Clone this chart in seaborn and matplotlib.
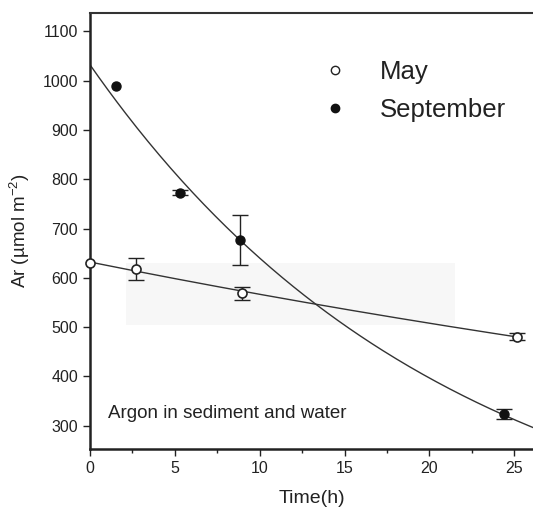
import numpy as np
import pandas as pd
import matplotlib
matplotlib.use("Agg")
import matplotlib.pyplot as plt
from matplotlib.lines import Line2D
from matplotlib.patches import Rectangle
import seaborn as sns

# ---- data ----
may_t = [0.0, 2.7, 8.98, 25.16]
may_ar = [631, 618, 569, 481]
may_err = [0, 22, 13, 8]

sep_t = [1.53, 5.31, 8.82, 24.37]
sep_ar = [988, 773, 677, 324]
sep_err = [0, 5, 50, 10]

series_names = ["May", "September"]
x_ticks = [0, 5, 10, 15, 20, 25]
y_ticks = [300, 400, 500, 600, 700, 800, 900, 1000, 1100]

sns.set_theme(style="ticks")
plt.rcParams["font.family"] = ["Liberation Sans", "DejaVu Sans"]
plt.rcParams["mathtext.fontset"] = "custom"
plt.rcParams["mathtext.rm"] = "Liberation Sans"
plt.rcParams["mathtext.it"] = "Liberation Sans:italic"

df = pd.DataFrame({
    "t": may_t + sep_t,
    "ar": may_ar + sep_ar,
    "err": may_err + sep_err,
    "month": [series_names[0]] * len(may_t) + [series_names[1]] * len(sep_t),
})

fig = plt.figure(figsize=(5.33, 5.08), dpi=100)
ax = fig.add_axes([90 / 533, 59 / 508, 443 / 533, 436 / 508])

# faint scan shading
ax.add_patch(Rectangle((2.1, 505), 19.4, 126, facecolor="#f7f7f7",
                       edgecolor="none", zorder=0))

# exponential fits (log-linear regression of the data)
for name, tt, yy, tend in [("May", may_t, may_ar, 25.2), ("September", sep_t, sep_ar, 26.2)]:
    k, lna = np.polyfit(np.array(tt), np.log(np.array(yy, dtype=float)), 1)
    tg = np.linspace(0, tend, 200)
    fit = pd.DataFrame({"t": tg, "ar": np.exp(lna + k * tg)})
    sns.lineplot(data=fit, x="t", y="ar", ax=ax, color="#333333",
                 linewidth=1.0, zorder=2)

# error bars
for name in series_names:
    sub = df[(df.month == name) & (df.err > 0)]
    ax.errorbar(sub.t, sub.ar, yerr=sub.err, fmt="none", ecolor="#222222",
                elinewidth=1.0, capsize=6, capthick=1.0, zorder=3)

# points
may = df[df.month == "May"]
sep = df[df.month == "September"]
ax.plot(may.t, may.ar, linestyle="none", marker="o", markersize=6.5,
        markerfacecolor="white", markeredgecolor="#222222", markeredgewidth=1.2,
        zorder=4, clip_on=False)
ax.plot(sep.t, sep.ar, linestyle="none", marker="o", markersize=6.5,
        markerfacecolor="#111111", markeredgecolor="#111111", zorder=4, clip_on=False)

ax.set_xlim(0, 26.1)
ax.set_ylim(253, 1137)
ax.set_xticks(x_ticks)
ax.set_yticks(y_ticks)
ax.set_xticks([2.5, 7.5, 12.5, 17.5, 22.5], minor=True)
ax.tick_params(axis="both", which="major", labelsize=11.5, length=5, width=1.0,
               color="#222222", labelcolor="#222222", direction="out")
ax.tick_params(axis="x", which="minor", length=3, width=1.0, color="#222222")

ax.spines["right"].set_visible(False)
for s in ["left", "bottom"]:
    ax.spines[s].set_linewidth(1.8)
    ax.spines[s].set_color("#222222")
ax.spines["top"].set_linewidth(1.5)
ax.spines["top"].set_color("#333333")

ax.set_xlabel("Time(h)", fontsize=14, color="#222222", labelpad=10)
ax.set_ylabel("Ar (µmol m$^{-2}$)", fontsize=13.5, color="#222222", labelpad=8)

ax.text(1.05, 324, "Argon in sediment and water", fontsize=13.5, color="#222222",
        va="center", ha="left")

handles = [
    Line2D([], [], linestyle="none", marker="o", markersize=6, markerfacecolor="white",
           markeredgecolor="#222222", markeredgewidth=1.0),
    Line2D([], [], linestyle="none", marker="o", markersize=6, markerfacecolor="#111111",
           markeredgecolor="#111111"),
]
leg = ax.legend(handles, series_names, loc="upper left",
                bbox_to_anchor=(322 / 533, 1 - 60 / 508), bbox_transform=fig.transFigure,
                frameon=False, fontsize=18.5, handlelength=1.0, handletextpad=1.25,
                borderpad=0, borderaxespad=0, labelspacing=0.55)
for txt in leg.get_texts():
    txt.set_color("#222222")

fig.savefig("out.png", dpi=100)
